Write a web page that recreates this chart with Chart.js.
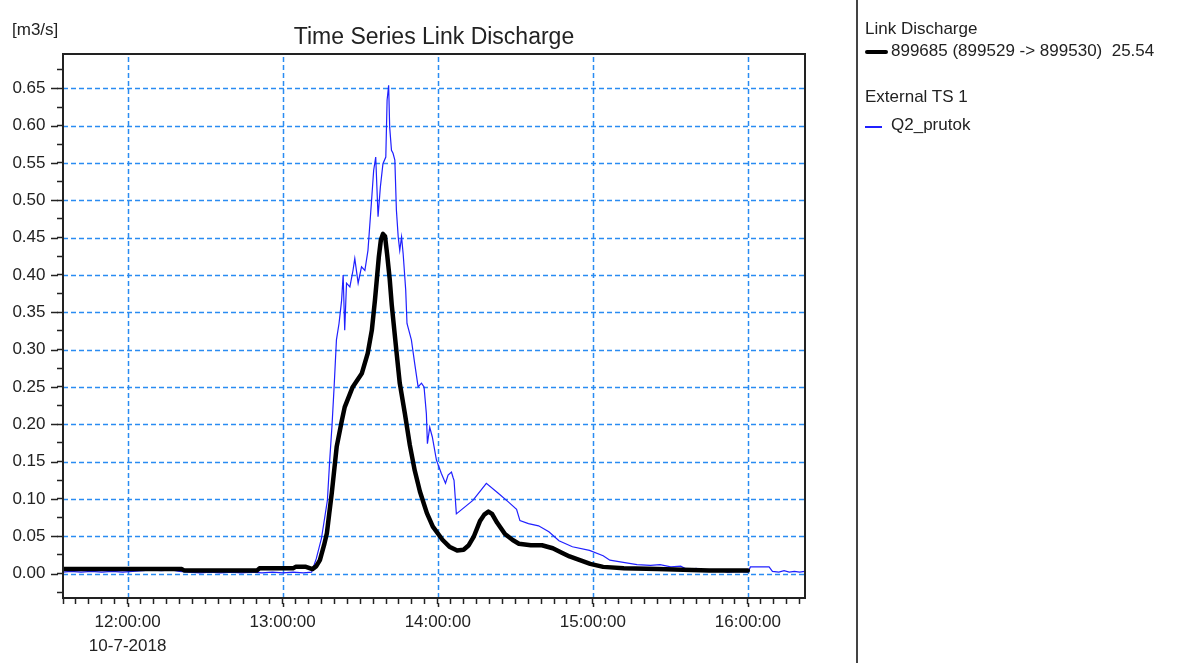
<!DOCTYPE html>
<html>
<head>
<meta charset="utf-8">
<script src="https://cdn.jsdelivr.net/npm/chart.js@4/dist/chart.umd.min.js"></script>
<style>
html,body{margin:0;padding:0;background:#fff;}
#wrap{position:relative;width:1189px;height:663px;overflow:hidden;font-family:"Liberation Sans",Arial,sans-serif;color:#222;}
#c{position:absolute;left:0;top:0;}
.t{position:absolute;white-space:pre;font-size:17px;line-height:20px;}
#title{position:absolute;left:63px;width:742px;top:22px;text-align:center;font-size:23px;line-height:28px;white-space:pre;}
#sep{position:absolute;left:856px;top:0;width:2px;height:663px;background:#444;}
.sw{position:absolute;}
</style>
</head>
<body>
<div id="wrap">
  <canvas id="c" width="1189" height="663"></canvas>
  <div id="title">Time Series Link Discharge</div>
  <div class="t" style="left:12px;top:20px;">[m3/s]</div>
  <div id="sep"></div>
  <div class="t" style="left:865px;top:19px;">Link Discharge</div>
  <div class="sw" style="left:865px;top:50px;width:23px;height:4px;background:#000;border-radius:2px;"></div>
  <div class="t" style="left:891px;top:41px;">899685 (899529 -&gt; 899530)  25.54</div>
  <div class="t" style="left:865px;top:87px;">External TS 1</div>
  <div class="sw" style="left:865px;top:126px;width:17px;height:1.5px;background:#2020ff;"></div>
  <div class="t" style="left:891px;top:115px;">Q2_prutok</div>
</div>
<script>
// ---- data (x = minutes since midnight, 10-7-2018) ----
const linkTimes = [695,741,742,770,771,784,785,789,791.5,793,794.4,796,797.1,798,799,800.9,802.9,804,807.1,810.6,812.9,814.5,815.7,816.4,817.2,818,818.8,819.6,820.4,821.4,822.2,824.1,825.3,827.3,829.2,831.1,833.1,835.8,838.1,841.9,844.5,847.5,850,852,854,856.3,858,859.6,861,863,866,869,871.4,876,880.3,884.5,888,891,895,899,904,912,925,935,945,960];
const linkQ     = [0.006,0.006,0.004,0.004,0.007,0.007,0.009,0.009,0.006,0.01,0.018,0.038,0.054,0.08,0.108,0.17,0.205,0.223,0.25,0.268,0.295,0.326,0.366,0.393,0.424,0.447,0.455,0.452,0.428,0.395,0.36,0.295,0.255,0.214,0.172,0.138,0.11,0.081,0.063,0.045,0.036,0.031,0.032,0.038,0.05,0.07,0.079,0.083,0.08,0.068,0.053,0.045,0.04,0.038,0.038,0.034,0.028,0.023,0.018,0.013,0.009,0.007,0.006,0.005,0.004,0.004];

const extTimes = [695,698,702,706,710,714,718,722,726,729,733,737,740,744,748,752,756,760,764,768,772,776,780,784,788,791.2,793,795,797.3,798.2,799.1,799.9,800.8,801.8,802.8,803.4,804,804.7,806,807.2,807.9,809.2,810.5,811.8,813,814.4,815.2,816,816.9,817.8,818.8,819.9,820.4,821,821.4,822.1,822.7,823.4,824,824.7,825.3,826,826.6,827.6,828.1,829.8,831.1,832.4,833.7,834.7,835.6,836,836.9,837.9,839.5,841.4,843,844,845.3,845.9,846.3,847.2,853.6,858.8,863.3,867.3,870.5,871.8,875.1,879,883,886.9,892.1,898.7,904,906.6,911.8,917.1,922.3,926,930.2,934,936.7,940,943.3,948,952,956.4,960,961,968.2,969.5,972,974,976,978,980,982];
const extQ     = [0.002,0.003,0.002,0.003,0.002,0.003,0.002,0.003,0.004,0.005,0.004,0.005,0.003,0.002,0.001,0.002,0.001,0.002,0.001,0.002,0.001,0.002,0.001,0.002,0.001,0.002,0.02,0.047,0.098,0.152,0.199,0.25,0.313,0.335,0.366,0.40,0.326,0.389,0.384,0.406,0.422,0.389,0.411,0.406,0.433,0.50,0.54,0.558,0.478,0.518,0.549,0.558,0.634,0.654,0.598,0.567,0.563,0.554,0.487,0.451,0.433,0.451,0.429,0.38,0.335,0.313,0.281,0.25,0.255,0.25,0.214,0.174,0.196,0.183,0.152,0.134,0.121,0.132,0.136,0.129,0.125,0.08,0.098,0.121,0.108,0.096,0.086,0.071,0.067,0.064,0.056,0.044,0.036,0.031,0.024,0.018,0.015,0.012,0.011,0.012,0.009,0.010,0.005,0.007,0.003,0.005,0.002,0.003,0.002,0.009,0.009,0.003,0.002,0.004,0.002,0.003,0.002,0.003];

const hourValues = [720,780,840,900,960];
const hourLabels = ['12:00:00','13:00:00','14:00:00','15:00:00','16:00:00'];
const dateLabel  = '10-7-2018';
const yLabels = ['0.00','0.05','0.10','0.15','0.20','0.25','0.30','0.35','0.40','0.45','0.50','0.55','0.60','0.65'];

const X_MIN = 695, X_MAX = 982.1, Y_MIN = -0.0327, Y_MAX = 0.696;
const GRID_BLUE = '#2a8cf2';
const FONT = '"Liberation Sans", Arial, sans-serif';

const gridFrame = {
  id: 'gridFrame',
  beforeDatasetsDraw(chart) {
    const {ctx, chartArea: a, scales: {x, y}} = chart;
    ctx.save();
    ctx.beginPath(); ctx.rect(a.left, a.top, a.right - a.left, a.bottom - a.top); ctx.clip();
    ctx.strokeStyle = GRID_BLUE; ctx.lineWidth = 1.5; ctx.setLineDash([5, 3]);
    hourValues.forEach(v => {
      const px = Math.round(x.getPixelForValue(v)) + 0.5;
      ctx.beginPath(); ctx.moveTo(px, a.bottom); ctx.lineTo(px, a.top); ctx.stroke();
    });
    yLabels.forEach(l => {
      const py = Math.round(y.getPixelForValue(parseFloat(l))) + 0.5;
      ctx.beginPath(); ctx.moveTo(a.left, py); ctx.lineTo(a.right, py); ctx.stroke();
    });
    ctx.restore();
  },
  afterDatasetsDraw(chart) {
    const {ctx, chartArea: a, scales: {x, y}} = chart;
    ctx.save();
    // longer marks at the labelled ticks
    ctx.strokeStyle = '#222'; ctx.lineWidth = 1.5; ctx.setLineDash([]);
    yLabels.forEach(l => {
      const py = Math.round(y.getPixelForValue(parseFloat(l))) + 0.5;
      ctx.beginPath(); ctx.moveTo(a.left - 12, py); ctx.lineTo(a.left - 5, py); ctx.stroke();
    });
    hourValues.forEach(v => {
      const px = Math.round(x.getPixelForValue(v)) + 0.5;
      ctx.beginPath(); ctx.moveTo(px, a.bottom + 5); ctx.lineTo(px, a.bottom + 9); ctx.stroke();
    });
    ctx.strokeStyle = '#222'; ctx.lineWidth = 2;
    ctx.strokeRect(a.left, a.top, a.right - a.left, a.bottom - a.top);
    ctx.restore();
  }
};

const toPts = (ts, vs) => ts.map((t, i) => ({x: t, y: vs[i]}));

new Chart(document.getElementById('c'), {
  type: 'line',
  data: {
    datasets: [
      {label: '899685 (899529 -> 899530)  25.54', data: toPts(linkTimes, linkQ), borderColor: '#000', borderWidth: 4.5, pointRadius: 0, tension: 0, borderJoinStyle: 'round', borderCapStyle: 'round'},
      {label: 'Q2_prutok', data: toPts(extTimes, extQ), borderColor: '#2020ff', borderWidth: 1.2, pointRadius: 0, tension: 0}
    ]
  },
  options: {
    responsive: false, animation: false, devicePixelRatio: 1,
    layout: {padding: {left: 0, top: 54, right: 384, bottom: 0}},
    plugins: {legend: {display: false}, tooltip: {enabled: false}, title: {display: false}},
    scales: {
      x: {
        type: 'linear', min: X_MIN, max: X_MAX,
        afterBuildTicks(s) { const t = []; for (let v = 695; v <= 980; v += 5) t.push({value: v}); s.ticks = t; },
        afterFit(s) { s.height = 65; },
        ticks: {
          autoSkip: false, maxRotation: 0, minRotation: 0, padding: 6, color: '#222',
          font: {family: FONT, size: 17, lineHeight: 1.41},
          callback(v) {
            const i = hourValues.indexOf(v);
            if (i < 0) return '';
            return v === 720 ? [hourLabels[i], dateLabel] : hourLabels[i];
          }
        },
        grid: {display: true, drawOnChartArea: false, drawTicks: true, tickLength: 6, tickColor: '#222', tickWidth: 1.5},
        border: {display: false}
      },
      y: {
        type: 'linear', min: Y_MIN, max: Y_MAX,
        afterBuildTicks(s) { const t = []; for (let i = -1; i <= 27; i++) t.push({value: i * 25 / 1000}); s.ticks = t; },
        afterFit(s) { s.width = 63; },
        ticks: {
          autoSkip: false, padding: 11.5, color: '#222',
          font: {family: FONT, size: 17},
          callback(v) { const l = yLabels.find(l => Math.abs(parseFloat(l) - v) < 1e-6); return l || ''; }
        },
        grid: {display: true, drawOnChartArea: false, drawTicks: true, tickLength: 6, tickColor: '#222', tickWidth: 1.5},
        border: {display: false}
      }
    }
  },
  plugins: [gridFrame]
});
</script>
</body>
</html>
